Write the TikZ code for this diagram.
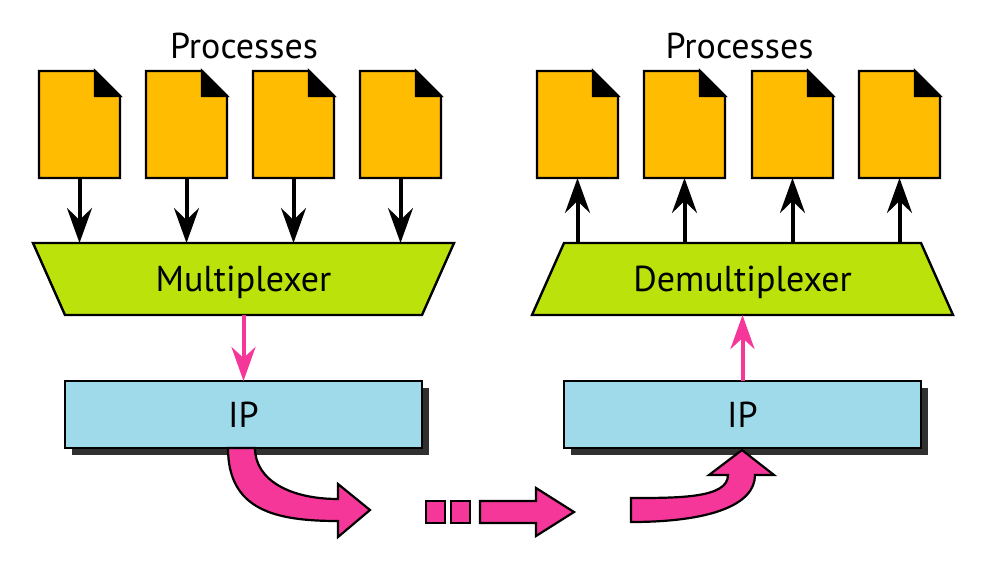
\documentclass[tikz,border=0pt]{standalone}
\usepackage{fontspec}
\setmainfont{PT Sans}
\usetikzlibrary{arrows.meta}
\definecolor{fileorange}{HTML}{FFBC00}
\definecolor{lime}{HTML}{BBE30B}
\definecolor{ipblue}{HTML}{9FDAEA}
\definecolor{hotpink}{HTML}{F5379A}
\definecolor{shadowgray}{HTML}{303030}
\tikzset{
  anchorbox/.style={rectangle,inner sep=0pt,outer sep=0pt,minimum width=#1},
  filebox/.style={anchorbox=81pt,minimum height=107pt},
  muxbox/.style={anchorbox=421pt,minimum height=72pt},
  ipbox/.style={anchorbox=357pt,minimum height=67pt,fill=ipblue,draw=black,line width=2.4pt},
  outline/.style={draw=black,line width=2.4pt,line join=miter},
  label/.style={inner sep=0pt,anchor=base,font=\fontsize{36}{36}\selectfont},
  blackarrow/.style={draw=black,line width=4pt,-{Stealth[length=35pt,width=25pt,inset=12pt]}},
  pinkarrow/.style={draw=hotpink,line width=4pt,-{Stealth[length=34pt,width=24pt,inset=11pt]}},
  bigarrow/.style={fill=hotpink,draw=black,line width=2.2pt,line join=miter}
}
\newcommand{\filedoc}[3]{%
  \node[filebox] (#1) at (#2,#3) {};
  \draw[outline,fill=fileorange]
    (#1.north west) -- ([xshift=56pt]#1.north west) -- ([yshift=-25pt]#1.north east)
    -- (#1.south east) -- (#1.south west) -- cycle;
  \draw[outline,fill=black]
    ([xshift=56pt]#1.north west) -- ([yshift=-25pt]#1.north east)
    -- ([xshift=56pt,yshift=-25pt]#1.north west) -- cycle;
}
\begin{document}
\begin{tikzpicture}[x=1pt,y=-1pt]
\useasboundingbox (0,0) rectangle (984,568);
% processes
\foreach \n/\x in {a/79.5,b/186.5,c/293.5,d/400.5,e/577.5,f/684.5,g/792.5,h/899.5}{\filedoc{\n}{\x}{124.5}}
\node[label] (ltitle) at (244,58) {Processes};
\node[label] (rtitle) at (739.5,58) {Processes};
% multiplexer
\node[muxbox] (mux) at (243.5,279) {};
\draw[outline,fill=lime] (mux.north west) -- (mux.north east) -- ([xshift=-32pt]mux.south east) -- ([xshift=32pt]mux.south west) -- cycle;
\node[label] (muxt) at (243.5,291) {Multiplexer};
% demultiplexer
\node[muxbox] (demux) at (742.5,279) {};
\draw[outline,fill=lime] ([xshift=32pt]demux.north west) -- ([xshift=-32pt]demux.north east) -- (demux.south east) -- (demux.south west) -- cycle;
\node[label] (demuxt) at (742.5,291) {Demultiplexer};
% black arrows
\foreach \n in {a,b,c,d}{\draw[blackarrow] (\n.south) -- (\n.south |- mux.north);}
\foreach \n in {e,f,g,h}{\draw[blackarrow] (\n.south |- demux.north) -- (\n.south);}
% IP boxes
\fill[shadowgray] (72,388) rectangle (429,455);
\fill[shadowgray] (571,388) rectangle (928,455);
\node[ipbox] (ipl) at (243.5,414.5) {};
\node[ipbox] (ipr) at (742.5,414.5) {};
\node[label] (iplt) at (243.5,427) {IP};
\node[label] (iprt) at (742.5,427) {IP};
% pink arrows
\draw[pinkarrow] (mux.south) -- (ipl.north);
\draw[pinkarrow] (ipr.north) -- (demux.south);
% wide arrows
\draw[bigarrow] (228,448) .. controls (228,510) and (275,521) .. (338,521) -- (338,537) -- (370,510) -- (338,484) -- (338,499)
  .. controls (290,499) and (255,480) .. (255,448) -- cycle;
\draw[bigarrow] (426,501) rectangle (445,523);
\draw[bigarrow] (451,501) rectangle (470,523);
\draw[bigarrow] (480,501) -- (536,501) -- (536,488) -- (574,512) -- (536,536) -- (536,523) -- (480,523) -- cycle;
\draw[bigarrow] (631,498) .. controls (680,498) and (728,498) .. (728,475) -- (709,475) -- (742,450) -- (774,475) -- (755,475)
  .. controls (755,505) and (710,522) .. (631,522) -- cycle;
\end{tikzpicture}
\end{document}
